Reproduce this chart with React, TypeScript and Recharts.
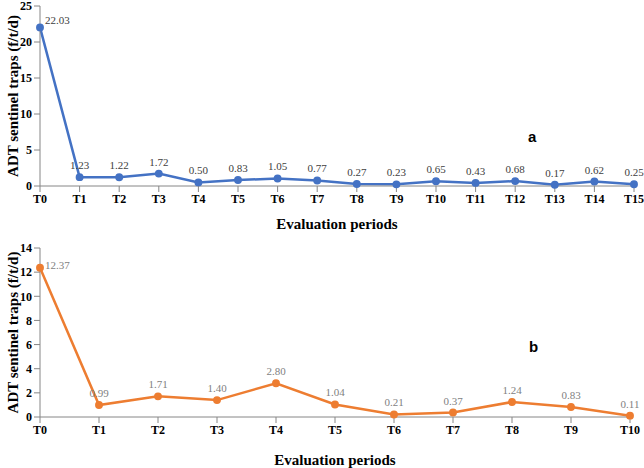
import React from "react";
import { LineChart, Line, XAxis, YAxis, LabelList } from "recharts";

// Sentinel trap ADT over evaluation periods — panel a (16 periods) and panel b (11 periods).

const periodsA = ["T0", "T1", "T2", "T3", "T4", "T5", "T6", "T7", "T8", "T9", "T10", "T11", "T12", "T13", "T14", "T15"];
const adtA = [22.03, 1.23, 1.22, 1.72, 0.5, 0.83, 1.05, 0.77, 0.27, 0.23, 0.65, 0.43, 0.68, 0.17, 0.62, 0.25];
const ticksA = [0, 5, 10, 15, 20, 25];

const periodsB = ["T0", "T1", "T2", "T3", "T4", "T5", "T6", "T7", "T8", "T9", "T10"];
const adtB = [12.37, 0.99, 1.71, 1.4, 2.8, 1.04, 0.21, 0.37, 1.24, 0.83, 0.11];
const ticksB = [0, 2, 4, 6, 8, 10, 12, 14];

const serif = "Liberation Serif, Times New Roman, serif";
const axisColor = "#868686";
const tick = { fontSize: 12, fontWeight: 700, fill: "#000", fontFamily: serif };
const axisLabelStyle = { fontSize: 15, fontWeight: 700, fill: "#000", fontFamily: serif };

function makeValueLabel(color: string, firstDy: number) {
  return (props: any) => {
    const { x, y, value, index } = props;
    const first = index === 0;
    return (
      <text
        x={first ? x + 5 : x}
        y={first ? y + firstDy : y - 8}
        textAnchor={first ? "start" : "middle"}
        fontSize={11}
        fontFamily={serif}
        fill={color}
      >
        {Number(value).toFixed(2)}
      </text>
    );
  };
}

function Panel({
  periods,
  values,
  ticks,
  color,
  labelColor,
  firstDy,
  width,
  height,
  margin,
  xHeight,
  labelOffset,
}: {
  periods: string[];
  values: number[];
  ticks: number[];
  color: string;
  labelColor: string;
  firstDy: number;
  width: number;
  height: number;
  margin: { top: number; right: number; bottom: number; left: number };
  xHeight: number;
  labelOffset: number;
}) {
  const data = periods.map((p, i) => ({ period: p, value: values[i] }));
  return (
    <LineChart width={width} height={height} data={data} margin={margin}>
      <XAxis
        dataKey="period"
        scale="point"
        padding={{ left: 0, right: 0 }}
        interval={0}
        tick={tick}
        stroke={axisColor}
        height={xHeight}
        label={{ value: "Evaluation periods", position: "insideBottom", offset: labelOffset, style: axisLabelStyle }}
      />
      <YAxis
        domain={[ticks[0], ticks[ticks.length - 1]]}
        ticks={ticks}
        interval={0}
        tick={tick}
        stroke={axisColor}
        width={40}
        label={{ value: "ADT sentinel traps (f/t/d)", angle: -90, position: "insideLeft", offset: 13, style: { ...axisLabelStyle, textAnchor: "middle" } }}
      />
      <Line
        type="linear"
        dataKey="value"
        stroke={color}
        strokeWidth={2.5}
        dot={{ r: 2.7, fill: color, stroke: color }}
        isAnimationActive={false}
      >
        <LabelList dataKey="value" content={makeValueLabel(labelColor, firstDy)} />
      </Line>
    </LineChart>
  );
}

export default function App() {
  return (
    <div style={{ position: "absolute", left: 0, top: 0, width: 644, height: 468, background: "#fff", fontFamily: serif }}>
      <div style={{ position: "absolute", left: 0, top: 0 }}>
        <Panel
          periods={periodsA}
          values={adtA}
          ticks={ticksA}
          color="#4472C4"
          labelColor="#404040"
          firstDy={-3}
          width={644}
          height={235}
          margin={{ top: 6, right: 10, bottom: 4, left: 0 }}
          xHeight={45}
          labelOffset={2}
        />
      </div>
      <div style={{ position: "absolute", left: 0, top: 235 }}>
        <Panel
          periods={periodsB}
          values={adtB}
          ticks={ticksB}
          color="#ED7D31"
          labelColor="#7F7F7F"
          firstDy={1}
          width={644}
          height={233}
          margin={{ top: 13, right: 14, bottom: 3, left: 0 }}
          xHeight={48}
          labelOffset={0}
        />
      </div>
      <div style={{ position: "absolute", left: 528, top: 128, fontFamily: "Liberation Sans, Arial, sans-serif", fontWeight: 700, fontSize: 15 }}>a</div>
      <div style={{ position: "absolute", left: 529, top: 338, fontFamily: "Liberation Sans, Arial, sans-serif", fontWeight: 700, fontSize: 15 }}>b</div>
    </div>
  );
}
